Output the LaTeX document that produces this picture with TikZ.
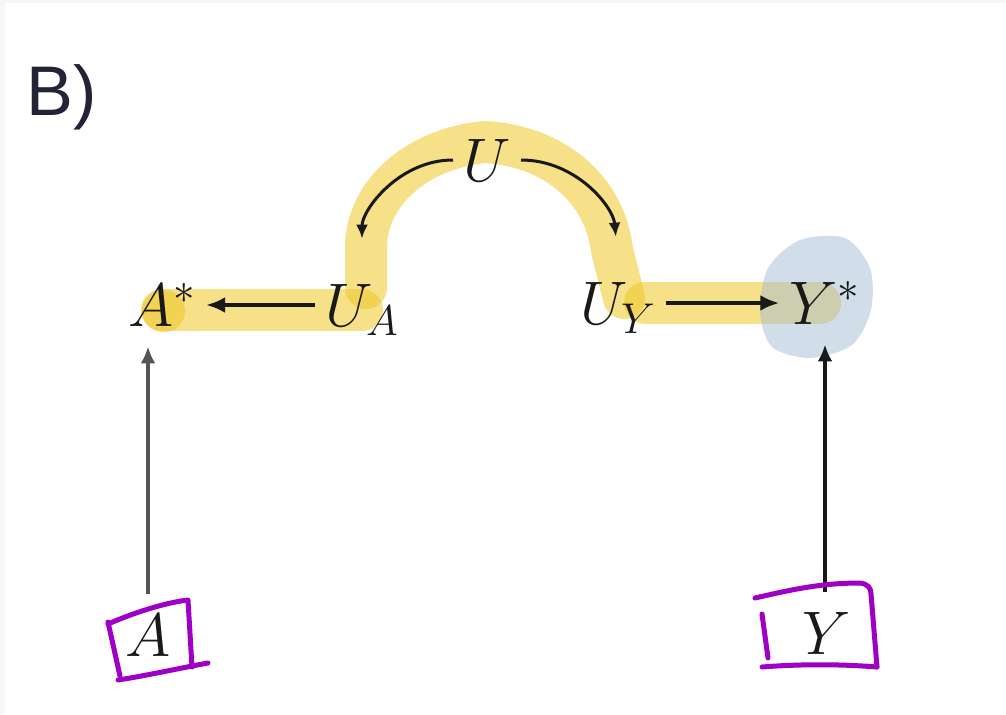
\RequirePackage{fix-cm}
\documentclass[tikz,border=0pt]{standalone}
\usepackage{fontspec}
\newfontfamily\labelfont{Liberation Sans}
\usetikzlibrary{arrows.meta}
\definecolor{framegray}{RGB}{246,246,246}
\definecolor{hl}{RGB}{240,200,40}
\definecolor{blob}{RGB}{165,190,215}
\definecolor{pen}{RGB}{158,0,198}
\definecolor{ink}{RGB}{25,25,25}
\definecolor{grayink}{RGB}{85,85,85}
\definecolor{labink}{RGB}{35,35,55}
\begin{document}
\begin{tikzpicture}[x=0.02cm,y=-0.02cm,
  var/.style={font=\fontsize{35}{42}\selectfont, text=ink, text height=28pt, text depth=4pt, inner xsep=0.2cm, inner ysep=0.26cm},
  arr/.style={draw=ink, line width=0.08cm, -{Latex[length=0.38cm,width=0.32cm]}},
  carr/.style={draw=ink, line width=0.06cm, -{Latex[length=0.28cm,width=0.24cm]}},
  varr/.style={line width=0.08cm, -{Latex[length=0.34cm,width=0.3cm]}},
  hlstroke/.style={draw=hl, draw opacity=0.55, line width=0.84cm, line cap=round, line join=round},
  penline/.style={draw=pen, line width=0.1cm, line cap=round, line join=round}]
\useasboundingbox (0,0) rectangle (1006,714);
\fill[framegray] (0,0) rectangle (1006,714);
\fill[white] (5,3) rectangle (1006,714);

% highlights
\draw[hlstroke] (162,310) -- (362,310);
\draw[hlstroke] (163,311) -- (164,311);
\draw[hlstroke] (366,288) -- (366,245) .. controls (368,190) and (420,148) .. (485,142) .. controls (555,146) and (605,190) .. (612,250) -- (624,298);
\draw[hlstroke] (645,303) -- (820,303);
\fill[blob, opacity=0.5] plot[smooth cycle] coordinates {(800,240) (845,238) (870,268) (871,310) (852,345) (810,358) (772,347) (760,312) (768,268)};

% label
\node[font=\labelfont\fontsize{40}{46}\selectfont, text=labink, anchor=base west, inner sep=0] (lab) at (26,115) {B)};

% nodes
\node[var] (As) at (162,305) {$A^{*}$};
\node[var] (UA) at (362,305) {$U_{A}$};
\node[var] (U)  at (487,160) {$U$};
\node[var] (UY) at (618,303) {$U_{Y}$};
\node[var] (Ys) at (825,303) {$Y^{*}$};
\node[var] (A)  at (148,635) {$A$};
\node[var] (Y)  at (827,633) {$Y$};

% connectors
\draw[arr] (UA) -- (As);
\draw[arr] (UY) -- (Ys);
\draw[carr, shorten >=0.5cm] (U.west) to[out=180,in=90] (UA.north);
\draw[carr, shorten >=0.5cm] (U.east) to[out=0,in=95] (UY.north);
\draw[varr, draw=grayink] (A.north) -- (A.north |- As.south);
\draw[varr, draw=ink] (Y.north -| Ys.south) -- (Ys.south);

% hand-drawn boxes
\draw[penline] (108,624) .. controls (140,610) and (170,602) .. (188,600) -- (192,667);
\draw[penline] (108,622) -- (120,676);
\draw[penline] (118,680) .. controls (150,675) and (180,668) .. (208,663);
\draw[penline] (755,598) .. controls (790,590) and (820,583) .. (860,583) .. controls (868,584) and (871,588) .. (871,594) -- (877,667);
\draw[penline] (762,667) .. controls (800,664) and (840,664) .. (877,667);
\draw[penline] (762,614) -- (768,658);
\end{tikzpicture}
\end{document}
